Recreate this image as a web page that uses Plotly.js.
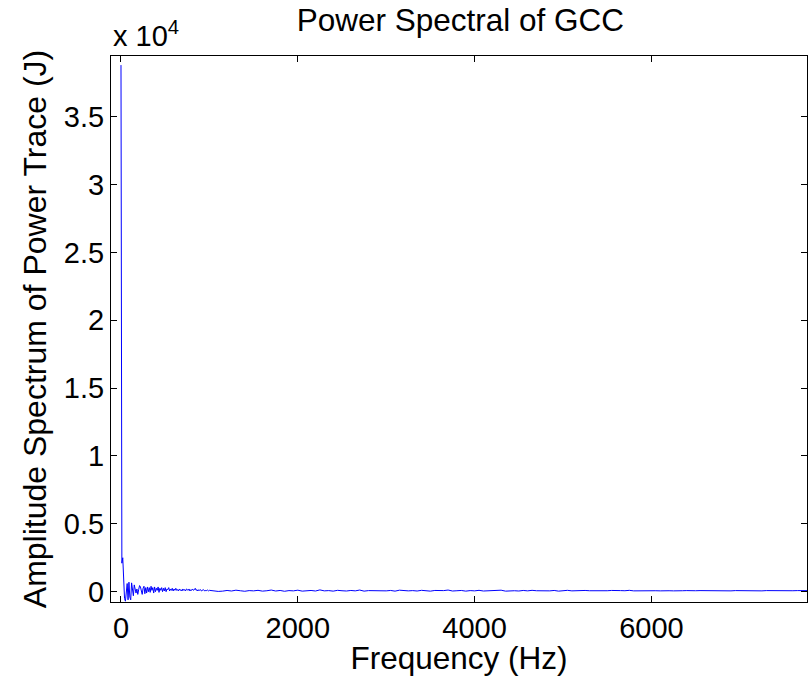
<!DOCTYPE html>
<html>
<head>
<meta charset="utf-8">
<script src="https://cdn.plot.ly/plotly-3.0.1.min.js"></script>
<style>html,body{margin:0;padding:0;background:#fff}#chart{width:809px;height:676px}</style>
</head>
<body>
<div id="chart"></div>
<script>
// Low-frequency part, one bin every 10 Hz from 0 Hz (values in J)
const lowStepHz = 10;
const lowValues = [38800, 2100, 2500, 900, -500, -700, 300, 600, -600, 700,
  -400, -600, 650, 300, -300, 500, 100, -100, 200, -200,
  150, 450, 350, -100, -200, 250, 400, -150, 300, -100,
  350, 0, 300, -50, 400, 100, 300, -100, 350, 0,
  250, 100, 350, -50, 250, 100, 300, 0, 250, 50,
  300, 0, 200, 150, 300, 50, 200, 100, 250, 50,
  200, 100, 250, 100, 150, 50, 200, 100, 150, 50,
  200, 100, 150, 50, 200, 150, 100, 200, 50, 150,
  100, 200, 100, 150, 250, 100, 150, 50, 150, 100,
  150, 50, 100, 150, 100, 50, 100, 80, 120, 60, 100];
// Tail, one bin every 50 Hz starting at 1050 Hz
const tailStartHz = 1050;
const tailStepHz = 50;
const tailValues = [60, 20, 40, 90, 50, 110, 70, 30, 80, 60,
  100, 40, 70, 120, 50, 90, 30, 80, 60, 110,
  40, 70, 90, 50, 130, 60, 80, 40, 100, 70,
  50, 90, 60, 120, 40, 80, 70, 100, 50, 60,
  90, 40, 110, 70, 60, 80, 50, 100, 70, 40,
  90, 60, 80, 120, 50, 70, 90, 40, 80, 60,
  100, 50, 70, 90, 60, 110, 40, 80, 70, 50,
  90, 60, 100, 70, 50, 80, 60, 90, 40, 70,
  100, 60, 80, 50, 90, 70, 60, 80, 50, 70,
  90, 60, 80, 70, 100, 60, 70, 80, 50, 90,
  70, 60, 80, 70, 60, 90, 70, 80, 60, 70,
  80, 70, 60, 90, 70, 80, 70, 60, 80, 70,
  90, 70, 80, 70, 60, 80, 70, 90, 80, 70,
  80, 70, 80, 90, 80, 80];
const yTickVals = [0, 5000, 10000, 15000, 20000, 25000, 30000, 35000];
const yTickText = ['0', '0.5', '1', '1.5', '2', '2.5', '3', '3.5'];
const xTickVals = [0, 2000, 4000, 6000];

const freq = [];
const amp = [];
lowValues.forEach((v, i) => { freq.push(i * lowStepHz); amp.push(v); });
tailValues.forEach((v, i) => { freq.push(tailStartHz + i * tailStepHz); amp.push(v); });

const font = 'Liberation Sans, Arial, Helvetica, sans-serif';
const trace = {
  x: freq, y: amp, type: 'scatter', mode: 'lines',
  line: {color: '#0000ff', width: 1}, hoverinfo: 'skip'
};
const axisCommon = {
  showline: true, linecolor: '#000', linewidth: 1, mirror: 'ticks',
  ticks: 'inside', ticklen: 6, tickcolor: '#000', tickwidth: 1,
  showgrid: false, zeroline: false,
  tickfont: {family: font, size: 29, color: '#000'}
};
const layout = {
  width: 809, height: 676,
  margin: {l: 111, r: 2, t: 56, b: 74},
  paper_bgcolor: '#fff', plot_bgcolor: '#fff',
  showlegend: false,
  title: {text: 'Power Spectral of GCC', font: {family: font, size: 31.5, color: '#000'},
          x: 0.569, xanchor: 'center', y: 0.97, yanchor: 'middle'},
  xaxis: Object.assign({}, axisCommon, {
    range: [-113, 7760], tickvals: xTickVals, ticktext: xTickVals.map(String),
    title: {text: 'Frequency (Hz)', font: {family: font, size: 31.5, color: '#000'}}
  }),
  yaxis: Object.assign({}, axisCommon, {
    range: [-760, 39470], tickvals: yTickVals, ticktext: yTickText,
    title: {text: 'Amplitude Spectrum of Power Trace (J)', font: {family: font, size: 32, color: '#000'}, standoff: 7}
  }),
  annotations: [{
    text: 'x 10<sup>4</sup>', xref: 'paper', yref: 'paper', x: 0, y: 1,
    xanchor: 'left', yanchor: 'bottom', showarrow: false, yshift: 2,
    font: {family: font, size: 29, color: '#000'}
  }]
};
Plotly.newPlot('chart', [trace], layout, {staticPlot: true, displayModeBar: false});
</script>
</body>
</html>
